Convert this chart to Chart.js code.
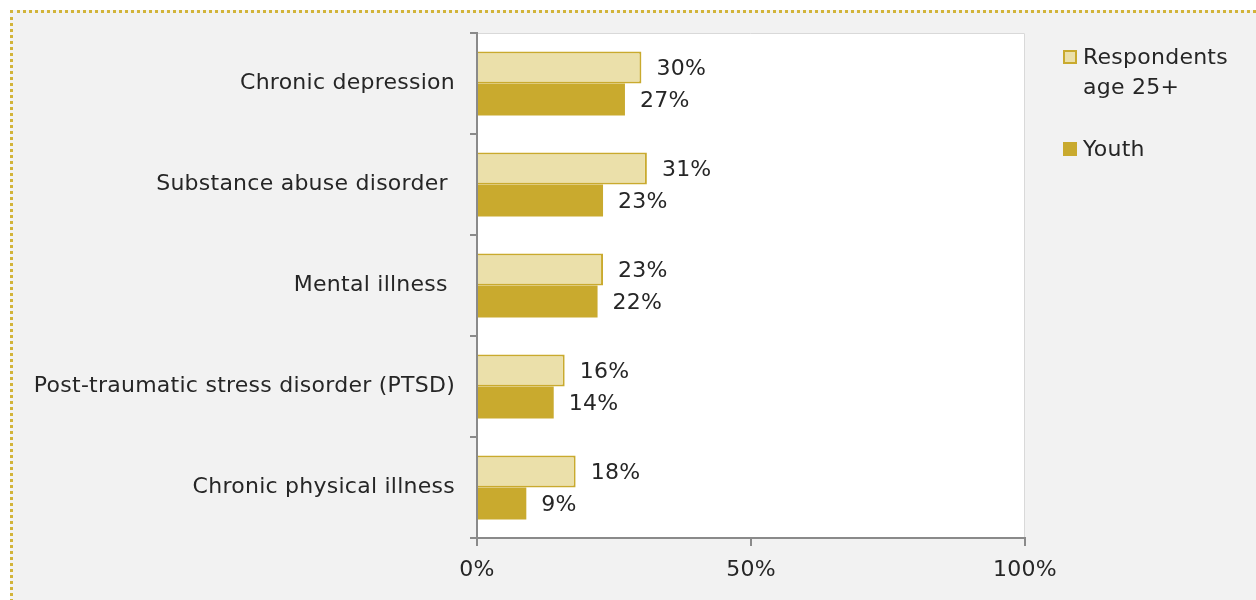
<!DOCTYPE html>
<html>
<head>
<meta charset="utf-8">
<script src="https://cdn.jsdelivr.net/npm/chart.js@4.4.1/dist/chart.umd.min.js"></script>
<style>
    html, body { margin: 0; padding: 0; background: #ffffff; overflow: hidden; }
    #frame {
        position: absolute; left: 10px; top: 10px; width: 1300px; height: 700px;
        background: #f2f2f2; border-top: 3px dotted #d2b43a; border-left: 3px dotted #d2b43a;
        box-sizing: border-box;
    }
    #wrap { position: absolute; left: 0; top: 0; width: 1256px; height: 600px; }
</style>
</head>
<body>
<div id="frame"></div>
<div id="wrap"><canvas id="conditionsChart" width="1256" height="600"></canvas></div>
<script>
const categories = [
    'Chronic depression',
    'Substance abuse disorder ',
    'Mental illness ',
    'Post-traumatic stress disorder (PTSD)',
    'Chronic physical illness'
];
const adultValues = [30, 31, 23, 16, 18];
const youthValues = [27, 23, 22, 14, 9];
const seriesNames = ['Respondents\nage 25+', 'Youth'];
const xTicks = [0, 50, 100];

const lightGold = '#ebe0aa';
const gold = '#c9aa2e';
const axisGray = '#8a8a8a';
const textColor = '#262626';
const fontSize = 22;
const fontString = fontSize + "px 'DejaVu Sans', sans-serif";

Chart.defaults.font.family = "'DejaVu Sans', sans-serif";
Chart.defaults.font.size = fontSize;
Chart.defaults.color = textColor;

// the original face is a bit wider than DejaVu
const wideText = {
    id: 'wideText',
    beforeUpdate(chart) { chart.ctx.letterSpacing = '0.25px'; },
    beforeDraw(chart) { chart.ctx.letterSpacing = '0.25px'; }
};

// white plot area with faint top/right edge
const plotBackground = {
    id: 'plotBackground',
    beforeDraw(chart) {
        const { ctx, chartArea: a } = chart;
        ctx.save();
        ctx.fillStyle = '#ffffff';
        ctx.fillRect(a.left, a.top, a.right - a.left, a.bottom - a.top);
        ctx.strokeStyle = '#d9d9d9';
        ctx.lineWidth = 1;
        ctx.beginPath();
        ctx.moveTo(a.left, a.top + 0.5);
        ctx.lineTo(a.right - 0.5, a.top + 0.5);
        ctx.lineTo(a.right - 0.5, a.bottom);
        ctx.stroke();
        ctx.restore();
    }
};

// percent labels after each bar
const barLabels = {
    id: 'barLabels',
    afterDatasetsDraw(chart) {
        const { ctx } = chart;
        ctx.save();
        ctx.font = fontString;
        ctx.fillStyle = textColor;
        ctx.textAlign = 'left';
        ctx.textBaseline = 'middle';
        chart.data.datasets.forEach((ds, i) => {
            chart.getDatasetMeta(i).data.forEach((bar, j) => {
                ctx.fillText(ds.data[j] + '%', bar.x + 15, bar.y + 2);
            });
        });
        ctx.restore();
    }
};

// legend to the right of the plot, first entry wraps onto two lines
const sideLegend = {
    id: 'sideLegend',
    afterDraw(chart) {
        const { ctx, chartArea: a } = chart;
        const x = a.right + 38;
        const tops = [a.top + 17, a.top + 109];
        ctx.save();
        ctx.font = fontString;
        ctx.textAlign = 'left';
        ctx.textBaseline = 'middle';
        chart.data.datasets.forEach((ds, i) => {
            const y = tops[i];
            ctx.fillStyle = ds.backgroundColor;
            ctx.fillRect(x, y, 14, 14);
            if (ds.borderWidth) {
                ctx.strokeStyle = ds.borderColor;
                ctx.lineWidth = 2;
                ctx.strokeRect(x + 1, y + 1, 12, 12);
            }
            ctx.fillStyle = textColor;
            ds.label.split('\n').forEach((line, k) => {
                ctx.fillText(line, x + 20, y + 8 + k * 30);
            });
        });
        ctx.restore();
    }
};

new Chart(document.getElementById('conditionsChart'), {
    type: 'bar',
    data: {
        labels: categories,
        datasets: [
            {
                label: seriesNames[0],
                data: adultValues,
                backgroundColor: lightGold,
                borderColor: gold,
                borderWidth: 2,
                borderSkipped: 'start'
            },
            {
                label: seriesNames[1],
                data: youthValues,
                backgroundColor: gold,
                borderWidth: 0
            }
        ]
    },
    options: {
        indexAxis: 'y',
        responsive: false,
        animation: false,
        categoryPercentage: 0.634,
        barPercentage: 1,
        layout: { padding: { top: 33, right: 231, left: 0, bottom: 0 } },
        plugins: {
            legend: { display: false },
            tooltip: { enabled: false }
        },
        scales: {
            x: {
                min: 0,
                max: 100,
                afterBuildTicks(scale) {
                    scale.ticks = xTicks.map(v => ({ value: v }));
                },
                afterFit(scale) { scale.height = 62; },
                ticks: {
                    callback: v => v + '%',
                    padding: 11,
                    color: textColor
                },
                grid: {
                    drawOnChartArea: false,
                    tickLength: 8,
                    color: axisGray,
                    lineWidth: 2
                },
                border: { color: axisGray, width: 2 }
            },
            y: {
                afterFit(scale) { scale.width = 477; },
                ticks: { padding: 15, color: textColor },
                grid: {
                    drawOnChartArea: false,
                    offset: true,
                    tickLength: 7,
                    color: axisGray,
                    lineWidth: 2
                },
                border: { color: axisGray, width: 2 }
            }
        }
    },
    plugins: [wideText, plotBackground, barLabels, sideLegend]
});
</script>
</body>
</html>
